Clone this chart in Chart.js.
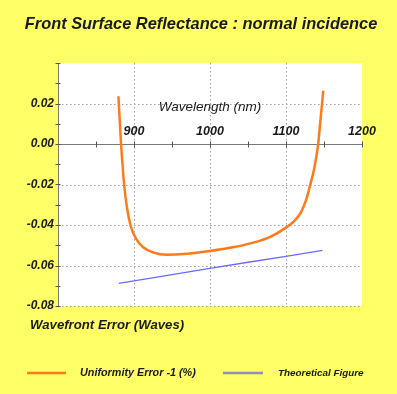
<!DOCTYPE html>
<html>
<head>
<meta charset="utf-8">
<script src="https://cdn.jsdelivr.net/npm/chart.js@4/dist/chart.umd.min.js"></script>
<style>
    body { margin: 0; background: #ffff66; }
    canvas { display: block; }
</style>
</head>
<body>
<canvas id="reflectanceChart" width="397" height="394"></canvas>
<script>
// Chart data
const wavelengthTicks = [900, 1000, 1100, 1200];
const errorTicks = [0.02, 0.00, -0.02, -0.04, -0.06, -0.08];

const uniformityNm = [879.5, 883, 887, 891, 896, 903, 912, 925, 943, 970, 1000, 1030, 1057, 1080, 1100, 1111, 1120, 1127, 1132, 1137, 1142, 1145.5, 1149];
const uniformityErr = [0.0236, 0.000, -0.020, -0.032, -0.041, -0.0470, -0.0510, -0.0535, -0.0547, -0.0542, -0.0528, -0.0510, -0.0487, -0.0457, -0.0413, -0.0380, -0.0335, -0.0270, -0.0200, -0.0123, -0.0010, 0.0123, 0.0263];

const theoryNm = [880, 950, 1000, 1050, 1100, 1148];
const theoryErr = [-0.0688, -0.0645, -0.0614, -0.0584, -0.0555, -0.0525];

const seriesNames = ['Uniformity Error -1 (%)', 'Theoretical Figure'];

const FONT = "'Liberation Sans', Arial, sans-serif";
const TEXT = '#1a1a1a';

function toPoints(xs, ys) {
    return xs.map((x, i) => ({ x: x, y: ys[i] }));
}

// Background, grid, axes and texts
const framePlugin = {
    id: 'frame',
    beforeDraw(chart) {
        const { ctx, chartArea: a } = chart;
        ctx.save();
        ctx.fillStyle = '#ffff66';
        ctx.fillRect(0, 0, chart.width, chart.height);
        ctx.fillStyle = '#ffffff';
        ctx.fillRect(a.left, a.top, a.right - a.left, a.bottom - a.top);
        ctx.restore();
    },
    beforeDatasetsDraw(chart) {
        const { ctx, chartArea: a, scales } = chart;
        const x = scales.x, y = scales.y;
        ctx.save();

        // dotted grid
        ctx.strokeStyle = '#a0a0a0';
        ctx.lineWidth = 1;
        ctx.setLineDash([1.5, 2.5]);
        errorTicks.forEach(v => {
            if (v === 0) return;
            const py = Math.round(y.getPixelForValue(v)) + 0.5;
            ctx.beginPath();
            ctx.moveTo(a.left, py);
            ctx.lineTo(a.right, py);
            ctx.stroke();
        });
        wavelengthTicks.forEach(v => {
            if (v >= x.max) return;
            const px = Math.round(x.getPixelForValue(v)) + 0.5;
            ctx.beginPath();
            ctx.moveTo(px, a.top);
            ctx.lineTo(px, a.bottom);
            ctx.stroke();
        });
        ctx.setLineDash([]);

        // zero line and left axis
        ctx.strokeStyle = '#7a7a7a';
        const y0 = Math.round(y.getPixelForValue(0)) + 0.5;
        ctx.beginPath();
        ctx.moveTo(a.left, y0);
        ctx.lineTo(a.right, y0);
        ctx.stroke();
        const xl = Math.round(a.left) + 0.5;
        ctx.beginPath();
        ctx.moveTo(xl, a.top);
        ctx.lineTo(xl, a.bottom);
        ctx.stroke();

        // tick marks
        ctx.strokeStyle = '#555555';
        for (let v = y.min; v <= y.max + 1e-9; v += 0.01) {
            const py = Math.round(y.getPixelForValue(v)) + 0.5;
            ctx.beginPath();
            ctx.moveTo(xl - 3, py);
            ctx.lineTo(xl + 2, py);
            ctx.stroke();
        }
        for (let v = x.min + 50; v <= x.max; v += 50) {
            const px = Math.round(x.getPixelForValue(v)) + 0.5;
            ctx.beginPath();
            ctx.moveTo(px, y0 - 3);
            ctx.lineTo(px, y0 + 3);
            ctx.stroke();
        }
        ctx.restore();
    },
    afterDraw(chart) {
        const { ctx, scales } = chart;
        const x = scales.x, y = scales.y;
        ctx.save();
        ctx.fillStyle = TEXT;

        // wavelength labels above zero line
        ctx.font = `italic bold 12.5px ${FONT}`;
        ctx.textAlign = 'center';
        ctx.textBaseline = 'middle';
        const y0 = y.getPixelForValue(0);
        wavelengthTicks.forEach(v => {
            ctx.fillText(String(v), x.getPixelForValue(v), y0 - 12);
        });

        // axis titles
        ctx.font = `italic 13.5px ${FONT}`;
        ctx.fillText('Wavelength (nm)', 210, 107);
        ctx.font = `italic bold 13.2px ${FONT}`;
        ctx.textAlign = 'left';
        ctx.fillText('Wavefront Error (Waves)', 30, 325);

        // title
        ctx.font = `italic bold 16.4px ${FONT}`;
        ctx.textAlign = 'center';
        ctx.fillText('Front Surface Reflectance : normal incidence', 201, 24);

        // legend
        ctx.lineWidth = 2.5;
        ctx.strokeStyle = '#ff7a1a';
        ctx.beginPath();
        ctx.moveTo(27, 373);
        ctx.lineTo(66, 373);
        ctx.stroke();
        ctx.strokeStyle = '#8c8cc0';
        ctx.beginPath();
        ctx.moveTo(223, 373);
        ctx.lineTo(263, 373);
        ctx.stroke();
        ctx.textAlign = 'left';
        ctx.font = `italic bold 10.8px ${FONT}`;
        ctx.fillText(seriesNames[0], 80, 373);
        ctx.font = `italic bold 9.9px ${FONT}`;
        ctx.fillText(seriesNames[1], 278, 373);
        ctx.restore();
    }
};

const chartCtx = document.getElementById('reflectanceChart');
new Chart(chartCtx, {
    type: 'line',
    data: {
        datasets: [{
            label: seriesNames[0],
            data: toPoints(uniformityNm, uniformityErr),
            borderColor: '#ff7a1a',
            borderWidth: 2.5,
            pointRadius: 0,
            cubicInterpolationMode: 'monotone',
            fill: false
        }, {
            label: seriesNames[1],
            data: toPoints(theoryNm, theoryErr),
            borderColor: '#6a6aff',
            borderWidth: 1.3,
            pointRadius: 0,
            fill: false
        }]
    },
    options: {
        responsive: false,
        animation: false,
        devicePixelRatio: 1,
        layout: {
            padding: { left: 0, right: 35, top: 63, bottom: 88 }
        },
        plugins: {
            legend: { display: false },
            tooltip: { enabled: false }
        },
        scales: {
            x: {
                type: 'linear',
                min: 800,
                max: 1200,
                display: false
            },
            y: {
                type: 'linear',
                min: -0.08,
                max: 0.04,
                afterFit: function(scale) { scale.width = 58; },
                grid: { display: false, drawTicks: false },
                border: { display: false },
                ticks: {
                    stepSize: 0.01,
                    autoSkip: false,
                    padding: 4,
                    color: TEXT,
                    font: { family: FONT, size: 12, style: 'italic', weight: 'bold' },
                    callback: function(value) {
                        const hit = errorTicks.find(t => Math.abs(t - value) < 1e-6);
                        return hit === undefined ? '' : hit.toFixed(2);
                    }
                }
            }
        }
    },
    plugins: [framePlugin]
});
</script>
</body>
</html>
